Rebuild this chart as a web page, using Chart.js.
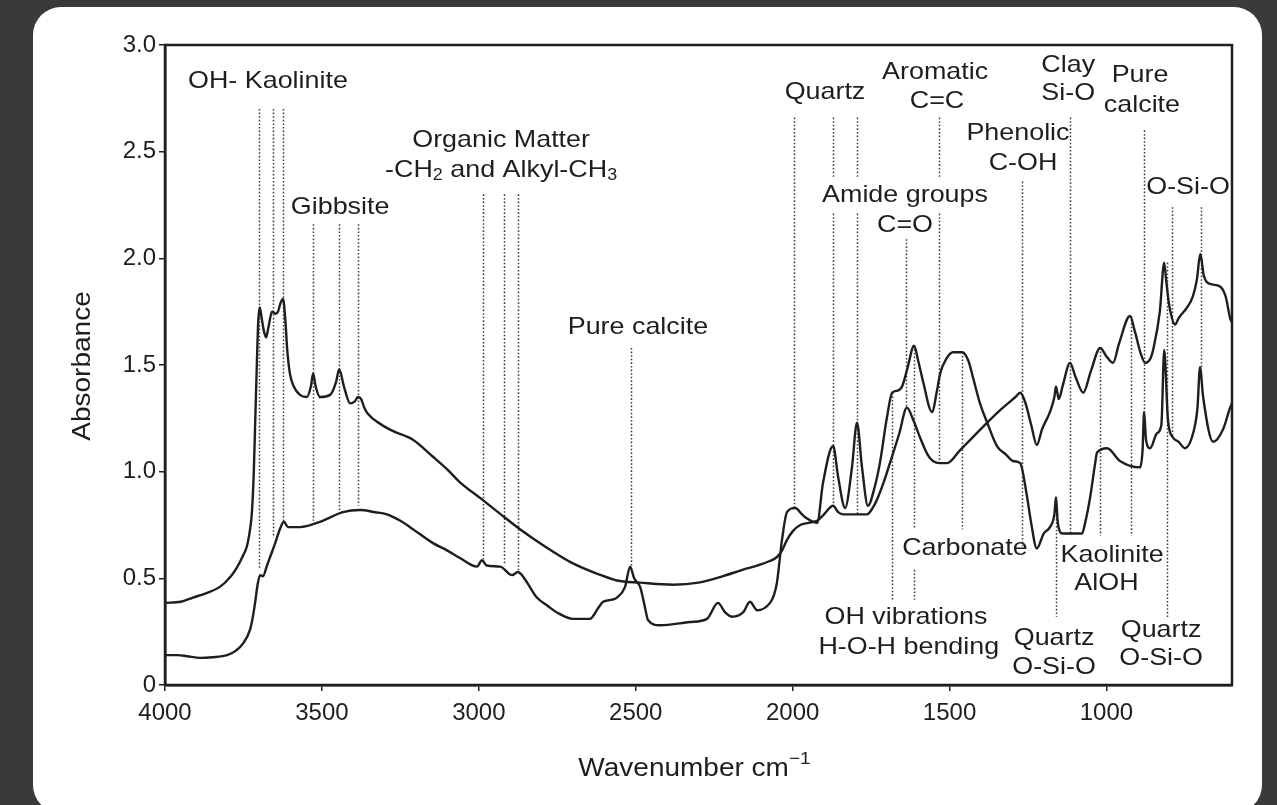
<!DOCTYPE html>
<html>
<head>
<meta charset="utf-8">
<title>FTIR spectra</title>
<script src="https://cdn.jsdelivr.net/npm/chart.js@4.4.0/dist/chart.umd.min.js"></script>
<style>
    html, body { margin: 0; padding: 0; }
    body { width: 1277px; height: 805px; background: #3a3a3a; overflow: hidden; position: relative; }
    #card { position: absolute; left: 33px; top: 7px; width: 1229px; height: 806px; background: #fff; border-radius: 28px; }
    #spectrum { position: absolute; left: 0; top: 0; }
</style>
</head>
<body>
<div id="card"></div>
<canvas id="spectrum" width="1277" height="805"></canvas>
<script>
// spectrum A: kaolinite / gibbsite rich soil (upper curve on the left)
const waveA = [4000, 3950, 3911, 3870, 3825, 3790, 3771, 3750, 3739, 3728, 3723, 3717, 3713, 3707, 3703, 3698, 3692, 3685, 3678, 3670,
    3659, 3648, 3640, 3632, 3624, 3616, 3611, 3602, 3590, 3570, 3548, 3535, 3528, 3520, 3506, 3474, 3455, 3445, 3430, 3410,
    3395, 3385, 3375, 3365, 3353, 3310, 3273, 3210, 3146, 3100, 3060, 2990, 2930, 2869, 2800, 2700, 2620, 2560, 2486, 2381,
    2300, 2222, 2160, 2113, 2075, 2050, 2034, 2018, 2000, 1976, 1950, 1922, 1900, 1871, 1855, 1839, 1800, 1763, 1745, 1731,
    1710, 1690, 1660, 1636, 1615, 1594, 1570, 1553, 1530, 1508, 1467, 1420, 1380, 1330, 1290, 1275, 1260, 1240, 1222, 1205,
    1180, 1166, 1161, 1152, 1140, 1116, 1100, 1074, 1050, 1020, 1000, 979, 960, 925, 910, 890, 877, 860, 850, 830,
    816, 810, 800, 781, 770, 743, 725, 712, 701, 690, 670, 640, 620, 606, 600];
const absA = [0.385, 0.39, 0.41, 0.43, 0.46, 0.51, 0.55, 0.61, 0.65, 0.74, 0.81, 1.0, 1.21, 1.52, 1.70, 1.77, 1.72, 1.66, 1.63, 1.68,
    1.75, 1.74, 1.75, 1.79, 1.81, 1.70, 1.58, 1.46, 1.40, 1.36, 1.35, 1.40, 1.46, 1.40, 1.35, 1.36, 1.42, 1.48, 1.40, 1.32,
    1.33, 1.35, 1.34, 1.30, 1.27, 1.22, 1.19, 1.15, 1.07, 1.01, 0.95, 0.87, 0.80, 0.73, 0.66, 0.57, 0.52, 0.49, 0.48, 0.47,
    0.48, 0.51, 0.54, 0.56, 0.58, 0.60, 0.63, 0.68, 0.72, 0.75, 0.76, 0.77, 0.80, 0.84, 0.81, 0.80, 0.80, 0.80, 0.83, 0.87,
    0.95, 1.04, 1.18, 1.30, 1.24, 1.16, 1.08, 1.05, 1.04, 1.04, 1.10, 1.17, 1.23, 1.30, 1.35, 1.37, 1.33, 1.22, 1.125, 1.20,
    1.28, 1.35, 1.40, 1.34, 1.40, 1.51, 1.45, 1.37, 1.47, 1.58, 1.54, 1.51, 1.60, 1.73, 1.66, 1.55, 1.51, 1.53, 1.58, 1.75,
    1.98, 1.90, 1.78, 1.69, 1.72, 1.77, 1.82, 1.90, 2.02, 1.92, 1.88, 1.87, 1.82, 1.72, 1.70];

// spectrum B: calcareous sample (lower curve on the left)
const waveB = [4000, 3960, 3930, 3888, 3850, 3802, 3775, 3751, 3729, 3720, 3713, 3705, 3697, 3688, 3675, 3665, 3650, 3634, 3621, 3608,
    3570, 3506, 3433, 3379, 3330, 3293, 3250, 3219, 3146, 3100, 3060, 3006, 2990, 2975, 2932, 2894, 2875, 2860, 2846, 2815,
    2780, 2751, 2700, 2646, 2620, 2604, 2575, 2560, 2534, 2518, 2505, 2486, 2470, 2461, 2423, 2327, 2273, 2238, 2215, 2193,
    2158, 2136, 2120, 2113, 2072, 2060, 2050, 2034, 2018, 1992, 1970, 1954, 1922, 1903, 1871, 1855, 1833, 1811, 1795, 1779,
    1760, 1740, 1722, 1700, 1683, 1665, 1651, 1635, 1613, 1600, 1584, 1556, 1540, 1530, 1510, 1489, 1460, 1440, 1425, 1403,
    1380, 1349, 1320, 1298, 1275, 1255, 1240, 1222, 1200, 1180, 1166, 1161, 1155, 1140, 1078, 1068, 1052, 1036, 1030, 998,
    957, 893, 885, 880, 874, 861, 839, 825, 816, 804, 788, 770, 750, 724, 710, 702, 692, 660, 628, 606, 600];
const absB = [0.14, 0.14, 0.135, 0.127, 0.13, 0.14, 0.16, 0.195, 0.26, 0.32, 0.385, 0.47, 0.515, 0.51, 0.56, 0.60, 0.66, 0.73, 0.765, 0.74,
    0.74, 0.765, 0.81, 0.82, 0.81, 0.80, 0.77, 0.74, 0.665, 0.63, 0.595, 0.555, 0.585, 0.56, 0.555, 0.515, 0.53, 0.51, 0.48, 0.41,
    0.37, 0.34, 0.31, 0.31, 0.36, 0.39, 0.40, 0.41, 0.46, 0.555, 0.50, 0.46, 0.36, 0.305, 0.28, 0.295, 0.31, 0.385, 0.34, 0.32,
    0.34, 0.39, 0.36, 0.35, 0.385, 0.42, 0.48, 0.68, 0.81, 0.83, 0.80, 0.78, 0.76, 0.95, 1.12, 0.975, 0.83, 1.02, 1.23, 1.02,
    0.84, 0.92, 1.04, 1.25, 1.37, 1.38, 1.40, 1.48, 1.59, 1.52, 1.42, 1.28, 1.38, 1.46, 1.53, 1.56, 1.56, 1.52, 1.44, 1.32,
    1.23, 1.12, 1.08, 1.05, 1.04, 0.90, 0.76, 0.64, 0.71, 0.74, 0.80, 0.88, 0.76, 0.71, 0.71, 0.76, 0.88, 1.04, 1.09, 1.11,
    1.05, 1.02, 1.10, 1.28, 1.15, 1.11, 1.18, 1.22, 1.57, 1.24, 1.16, 1.14, 1.11, 1.18, 1.30, 1.49, 1.35, 1.14, 1.20, 1.30, 1.32];

const xTickValues = [4000, 3500, 3000, 2500, 2000, 1500, 1000];

// dotted marker lines: wavenumber, top and bottom absorbance (split where a label cuts them)
const markerWave   = [3700, 3656, 3624, 3528, 3445, 3385, 2987, 2920, 2875, 2515, 1995, 1871, 1871, 1795, 1795, 1533, 1533,
    1640, 1683, 1613, 1613, 1460, 1270, 1161, 1116, 1020, 922, 880, 807, 791, 699];
const markerTop    = [2.70, 2.70, 2.70, 2.16, 2.16, 2.16, 2.30, 2.30, 2.30, 1.58, 2.66, 2.66, 2.21, 2.66, 2.21, 2.66, 2.21,
    2.09, 1.37, 1.59, 0.54, 1.56, 2.36, 0.88, 2.66, 1.58, 1.73, 2.60, 1.98, 2.24, 2.24];
const markerBottom = [0.54, 0.69, 0.76, 0.77, 0.82, 0.84, 0.59, 0.56, 0.53, 0.55, 0.83, 2.38, 0.84, 2.38, 0.80, 2.38, 1.04,
    1.30, 0.40, 0.73, 0.40, 0.73, 0.65, 0.32, 0.71, 0.70, 0.70, 1.28, 0.31, 1.16, 1.49];

// band labels, centred on (wavenumber, absorbance)
const labelText = ["OH- Kaolinite", "Gibbsite", "Organic Matter", "-CH_2 and Alkyl-CH_3", "Pure calcite", "Quartz",
    "Aromatic", "C=C", "Clay", "Si-O", "Pure", "calcite", "Phenolic", "C-OH", "Amide groups", "C=O", "O-Si-O",
    "Carbonate", "Kaolinite", "AlOH", "OH vibrations", "H-O-H bending", "Quartz", "O-Si-O", "Quartz", "O-Si-O"];
const labelWave = [3672, 3442, 2929, 2929, 2493, 1897, 1546, 1540, 1122, 1122, 893, 887, 1282, 1266, 1642, 1642, 740,
    1451, 982, 1000, 1639, 1630, 1167, 1167, 826, 826];
const labelAbs = [2.83, 2.24, 2.555, 2.414, 1.678, 2.78, 2.874, 2.738, 2.906, 2.775, 2.859, 2.719, 2.588, 2.447, 2.297, 2.156, 2.334,
    0.642, 0.609, 0.478, 0.319, 0.178, 0.220, 0.084, 0.258, 0.127];

const FONT = '"Liberation Sans", Arial, Helvetica, sans-serif';
const INK = "#1e1e1e";
const STRETCH = 1.12; // the source lettering is slightly wide

// split "CH_2" / "cm^-1" into plain, subscript and superscript pieces
function parseRich(text) {
    return text.split(/(_[0-9]+|\^[-0-9]+)/).filter(Boolean).map(p => {
        if (p[0] === "_") return { t: p.slice(1), sub: true };
        if (p[0] === "^") return { t: p.slice(1).replace("-", "\u2212"), sup: true };
        return { t: p };
    });
}

function drawRich(ctx, text, cx, cy, size) {
    const segs = parseRich(text);
    const fontFor = s => ((s.sub || s.sup) ? Math.round(size * 0.68) : size) + "px " + FONT;
    ctx.save();
    ctx.translate(cx, cy);
    ctx.scale(STRETCH, 1);
    let total = 0;
    segs.forEach(s => { ctx.font = fontFor(s); total += ctx.measureText(s.t).width; });
    let x = -total / 2;
    ctx.textAlign = "left";
    ctx.textBaseline = "middle";
    ctx.fillStyle = INK;
    segs.forEach(s => {
        ctx.font = fontFor(s);
        const dy = s.sub ? size * 0.22 : (s.sup ? -size * 0.38 : 0);
        ctx.fillText(s.t, x, dy);
        x += ctx.measureText(s.t).width;
    });
    ctx.restore();
}

const annotationPlugin = {
    id: "bandAnnotations",
    beforeDatasetsDraw(chart) {
        const { ctx, scales: { x, y } } = chart;
        ctx.save();
        ctx.strokeStyle = "#3c3c3c";
        ctx.lineWidth = 1.5;
        ctx.setLineDash([1.6, 2.0]);
        markerWave.forEach((w, i) => {
            const px = Math.round(x.getPixelForValue(w)) + 0.5;
            ctx.beginPath();
            ctx.moveTo(px, y.getPixelForValue(markerTop[i]));
            ctx.lineTo(px, y.getPixelForValue(markerBottom[i]));
            ctx.stroke();
        });
        ctx.restore();
    },
    afterDraw(chart) {
        const { ctx, chartArea: a, scales: { x, y } } = chart;
        // plot frame
        ctx.save();
        ctx.strokeStyle = INK;
        ctx.lineWidth = 2.5;
        ctx.strokeRect(a.left, a.top, a.right - a.left, a.bottom - a.top);
        ctx.restore();

        labelText.forEach((t, i) => {
            drawRich(ctx, t, x.getPixelForValue(labelWave[i]), y.getPixelForValue(labelAbs[i]), 24);
        });

        // axis titles
        drawRich(ctx, "Wavenumber cm^-1", (a.left + a.right) / 2 - 4, 769, 25);
        ctx.save();
        ctx.translate(83, (a.top + a.bottom) / 2 + 1);
        ctx.rotate(-Math.PI / 2);
        drawRich(ctx, "Absorbance", 0, 0, 25);
        ctx.restore();
    }
};

function buildSeries(waves, values) {
    return waves.map((w, i) => ({ x: w, y: values[i] }));
}

new Chart(document.getElementById("spectrum"), {
    type: "line",
    data: {
        datasets: [
            {
                label: "Soil A",
                data: buildSeries(waveA, absA),
                borderColor: INK,
                borderWidth: 2.4,
                pointRadius: 0,
                fill: false,
                cubicInterpolationMode: "monotone"
            },
            {
                label: "Soil B",
                data: buildSeries(waveB, absB),
                borderColor: INK,
                borderWidth: 2.4,
                pointRadius: 0,
                fill: false,
                cubicInterpolationMode: "monotone"
            }
        ]
    },
    options: {
        responsive: false,
        animation: false,
        layout: { padding: { left: 45, top: 45, right: 45, bottom: 0 } },
        plugins: {
            legend: { display: false },
            tooltip: { enabled: false }
        },
        scales: {
            x: {
                type: "linear",
                reverse: true,
                min: 600,
                max: 4000,
                afterBuildTicks: scale => { scale.ticks = xTickValues.map(v => ({ value: v })); },
                afterFit: scale => { scale.height = 120; },
                grid: { drawOnChartArea: false, drawTicks: true, tickLength: 6, color: INK, lineWidth: 1.5 },
                border: { display: true, color: INK, width: 2.5 },
                ticks: {
                    autoSkip: false,
                    maxRotation: 0,
                    padding: 8,
                    color: INK,
                    font: { family: FONT, size: 24 },
                    callback: v => String(v)
                }
            },
            y: {
                min: 0,
                max: 3,
                afterFit: scale => { scale.width = 120; },
                grid: { drawOnChartArea: false, drawTicks: true, tickLength: 6, color: INK, lineWidth: 1.5 },
                border: { display: true, color: INK, width: 2.5 },
                ticks: {
                    stepSize: 0.5,
                    padding: 3,
                    color: INK,
                    font: { family: FONT, size: 24 },
                    callback: v => (v === 0 ? "0" : v.toFixed(1))
                }
            }
        }
    },
    plugins: [annotationPlugin]
});
</script>
</body>
</html>
